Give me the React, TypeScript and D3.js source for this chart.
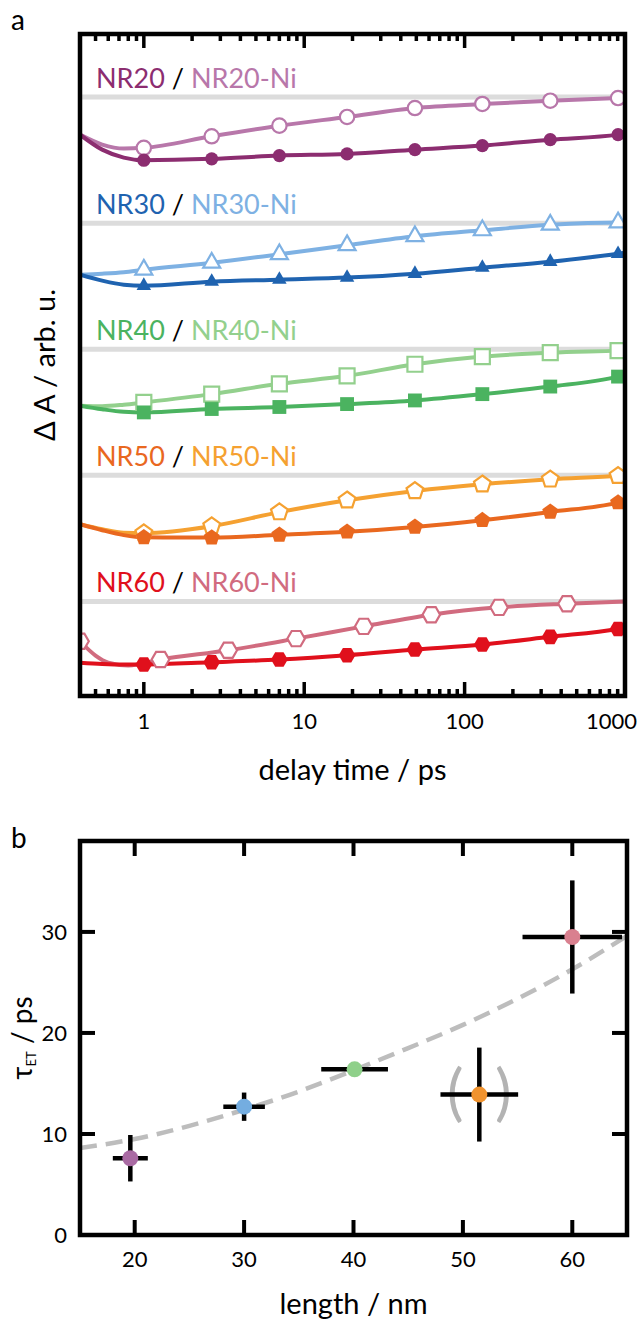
import React from "react";
import * as d3 from "d3";

// ---- panel a: transient absorption kinetics ----
const delayTimes = [0.4, 0.55, 0.75, 1, 2.65, 7, 18.5, 49, 129, 342, 905, 1000];
const markerTimes = [1, 2.65, 7, 18.5, 49, 129, 342, 905];
const ni60Times = [0.4, 0.5, 0.6, 0.8, 1.27, 3.36, 8.9, 23.5, 62, 164, 435, 1000];
const ni60MarkerTimes = [0.4, 1.27, 3.36, 8.9, 23.5, 62, 164, 435];

const nr20 = [-29.8, -41.7, -48, -50.1, -49, -46.4, -45.1, -41.7, -38.5, -33.8, -29.8, -29];
const nr20Ni = [-29.8, -37.7, -40.9, -40.3, -31.1, -22.7, -15.8, -8.7, -5.5, -2.9, -0.8, -0.6];
const nr30 = [-40.9, -45.6, -48.8, -49.6, -46.4, -44.8, -43.2, -40.1, -35.3, -30.6, -24.3, -23.5];
const nr30Ni = [-40.9, -40.1, -38.9, -36.9, -31.4, -24.7, -17.5, -10.4, -5.7, -1.3, 0.6, 0.6];
const nr40 = [-44.8, -47.6, -49.6, -50.1, -47.4, -45.8, -43.5, -40.6, -35.6, -29.6, -21.7, -20.3];
const nr40Ni = [-44.8, -45.2, -44.0, -42.2, -35.6, -27.4, -21.1, -11.9, -5.8, -2.7, -1.1, -0.9];
const nr50 = [-38.7, -43.5, -47.4, -49.2, -49.4, -47.2, -44.8, -40.9, -35.6, -29.0, -21.6, -20.2];
const nr50Ni = [-38.7, -42.7, -45.5, -45.8, -40.3, -29.2, -19.8, -12.4, -7.1, -3.2, -0.4, 0];
const nr60 = [-48.7, -49.6, -50.0, -50.0, -48.2, -46.1, -42.7, -38.2, -34.2, -28.1, -21.8, -20.8];
const nr60Ni = [-31.6, -42.9, -48.5, -50.8, -46.1, -38.7, -29.5, -19.8, -10.5, -4.7, -1.8, 0];

const sampleNames = ["NR20", "NR30", "NR40", "NR50", "NR60"];
const darkColors = ["#8c2d70", "#1f63b0", "#4bb360", "#e9681f", "#e0101c"];
const lightColors = ["#b877aa", "#7eb1e3", "#93d08d", "#f5a131", "#d16b7f"];
const markerShapes = ["circle", "triangle", "square", "pentagon", "hexagon"];
const timeTicks = [1, 10, 100, 1000];

// ---- panel b: electron transfer time vs rod length ----
const rodLengths = [19.6, 30.0, 40.1, 51.5, 60.0];
const lengthErr = [1.6, 1.9, 3.05, 3.55, 4.55];
const tauEt = [7.6, 12.7, 16.4, 13.9, 29.5];
const tauErr = [2.3, 1.4, 0.4, 4.65, 5.6];
const dotColors = ["#a96aa3", "#74ade0", "#8fd08a", "#f0932f", "#d9808f"];
const fitLengths = [15, 20, 25, 30, 35, 40, 45, 50, 55, 60, 65];
const fitTau = [8.6, 9.5, 10.8, 12.4, 14.2, 16.3, 18.5, 20.8, 23.4, 26.3, 29.6];
const lengthTicks = [20, 30, 40, 50, 60];
const tauTicks = [0, 10, 20, 30];

const W = 640;
const H = 1324;
const FONT = "Lato, 'Open Sans', sans-serif";

// polygon / circle marker path centred at 0,0
function markerPath(shape: string, r: number) {
  if (shape === "circle") return d3.symbol(d3.symbolCircle, Math.PI * r * r)();
  const n = { triangle: 3, square: 4, pentagon: 5, hexagon: 6 }[shape] as number;
  const start = { triangle: -Math.PI / 2, square: Math.PI / 4, pentagon: -Math.PI / 2, hexagon: 0 }[shape] as number;
  const pts = d3.range(n).map((i) => {
    const a = start + (i * 2 * Math.PI) / n;
    return [r * Math.cos(a), r * Math.sin(a)] as [number, number];
  });
  return d3.line().curve(d3.curveLinearClosed)(pts);
}
const openSize: any = { circle: 7.2, triangle: 9.8, square: 10.6, pentagon: 8.8, hexagon: 8.8 };
const fillSize: any = { circle: 6.6, triangle: 8.4, square: 9.8, pentagon: 8.4, hexagon: 8.4 };

function PanelA() {
  const left = 80, right = 625, top = 34, bottom = 696;
  const x = d3.scaleLog().domain([0.4, 1000]).range([left, right]);
  const y = d3.scaleLinear().domain([-475, 50]).range([bottom, top]);
  const spacing = 100; // vertical offset between samples

  const series = [
    { dark: nr20, light: nr20Ni },
    { dark: nr30, light: nr30Ni },
    { dark: nr40, light: nr40Ni },
    { dark: nr50, light: nr50Ni },
    { dark: nr60, light: nr60Ni },
  ];

  const line = (times: number[], vals: number[], off: number) =>
    d3.line<number>()
      .x((_, i) => x(times[i]))
      .y((v) => y(v - off))
      .curve(d3.curveMonotoneX)(vals);

  const valueAt = (times: number[], vals: number[], t: number) => vals[times.indexOf(t)];

  const minor: number[] = [];
  [0.1, 1, 10, 100].forEach((d) => d3.range(2, 10).forEach((k) => {
    const t = k * d;
    if (t >= 0.4 && t < 1000) minor.push(t);
  }));

  return (
    <g>
      <defs>
        <clipPath id="clipA">
          <rect x={left} y={top} width={right - left} height={bottom - top} />
        </clipPath>
      </defs>
      <text x={11} y={30} fontSize={28} fontFamily={FONT}>a</text>

      <g clipPath="url(#clipA)">
        {series.map((s, i) => (
          <line key={"b" + i} x1={left} x2={right} y1={y(-i * spacing)} y2={y(-i * spacing)}
            stroke="#dcdcdc" strokeWidth={5} />
        ))}
        {series.map((s, i) => {
          const off = i * spacing;
          const lt = i === 4 ? ni60Times : delayTimes;
          return (
            <g key={"l" + i} fill="none" strokeWidth={4} strokeLinejoin="round">
              <path d={line(lt, s.light, off) as string} stroke={lightColors[i]} />
              <path d={line(delayTimes, s.dark, off) as string} stroke={darkColors[i]} />
            </g>
          );
        })}
        {series.map((s, i) => {
          const off = i * spacing;
          const lt = i === 4 ? ni60Times : delayTimes;
          const lm = i === 4 ? ni60MarkerTimes : markerTimes;
          const shape = markerShapes[i];
          return (
            <g key={"m" + i}>
              {lm.map((t) => (
                <path key={"o" + t} d={markerPath(shape, openSize[shape]) as string}
                  transform={`translate(${x(t)},${y(valueAt(lt, s.light, t) - off)})`}
                  fill="#fff" stroke={lightColors[i]} strokeWidth={2.2} />
              ))}
              {markerTimes.map((t) => (
                <path key={"f" + t} d={markerPath(shape, fillSize[shape]) as string}
                  transform={`translate(${x(t)},${y(valueAt(delayTimes, s.dark, t) - off)})`}
                  fill={darkColors[i]} />
              ))}
            </g>
          );
        })}
      </g>

      {sampleNames.map((name, i) => (
        <text key={"t" + i} x={96} y={y(-i * spacing) - 9} fontSize={27} fontFamily={FONT}>
          <tspan fill={darkColors[i]}>{name}</tspan>
          <tspan fill="#000"> / </tspan>
          <tspan fill={lightColors[i]}>{name}-Ni</tspan>
        </text>
      ))}

      {/* ticks, top and bottom, pointing inwards */}
      <g stroke="#000" strokeWidth={3.5}>
        {timeTicks.map((t) => (
          <g key={"M" + t}>
            <line x1={x(t)} x2={x(t)} y1={top} y2={top + 14} />
            <line x1={x(t)} x2={x(t)} y1={bottom} y2={bottom - 14} />
          </g>
        ))}
        {minor.map((t) => (
          <g key={"m" + t}>
            <line x1={x(t)} x2={x(t)} y1={top} y2={top + 7} />
            <line x1={x(t)} x2={x(t)} y1={bottom} y2={bottom - 7} />
          </g>
        ))}
      </g>
      <rect x={left} y={top} width={right - left} height={bottom - top} fill="none"
        stroke="#000" strokeWidth={4.5} />

      {timeTicks.map((t) => (
        <text key={"L" + t} x={t === 1000 ? x(t) + 12 : x(t)} y={729}
          textAnchor={t === 1000 ? "end" : "middle"} fontSize={22} fontFamily={FONT}>
          {d3.format("d")(t)}
        </text>
      ))}
      <text x={(left + right) / 2} y={780} textAnchor="middle" fontSize={29} fontFamily={FONT}>
        delay time / ps
      </text>
      <text transform={`translate(55,${(top + bottom) / 2}) rotate(-90)`} textAnchor="middle"
        fontSize={29} fontFamily={FONT}>
        Δ A / arb. u.
      </text>
    </g>
  );
}

function PanelB() {
  const left = 80, right = 627, top = 841, bottom = 1235;
  const x = d3.scaleLinear().domain([15, 65]).range([left, right]);
  const y = d3.scaleLinear().domain([0, 39]).range([bottom, top]);
  const fit = d3.line<number>()
    .x((_, i) => x(fitLengths[i]))
    .y((v) => y(v))
    .curve(d3.curveNatural)(fitTau);

  return (
    <g>
      <defs>
        <clipPath id="clipB">
          <rect x={left} y={top} width={right - left} height={bottom - top} />
        </clipPath>
      </defs>
      <text x={11} y={848} fontSize={28} fontFamily={FONT}>b</text>

      <path d={fit as string} fill="none" stroke="#bdbdbd" strokeWidth={4.5}
        strokeDasharray="17 9" clipPath="url(#clipB)" />

      {/* excluded point marked with grey brackets */}
      <text x={x(rodLengths[3]) - 24} y={y(tauEt[3]) + 19} textAnchor="middle" fontSize={62}
        fontFamily={FONT} fill="#b3b3b3">(</text>
      <text x={x(rodLengths[3]) + 24} y={y(tauEt[3]) + 19} textAnchor="middle" fontSize={62}
        fontFamily={FONT} fill="#b3b3b3">)</text>

      <g stroke="#000" strokeWidth={4.5}>
        {rodLengths.map((l, i) => (
          <g key={"e" + i}>
            <line x1={x(l - lengthErr[i])} x2={x(l + lengthErr[i])} y1={y(tauEt[i])} y2={y(tauEt[i])} />
            <line x1={x(l)} x2={x(l)} y1={y(tauEt[i] - tauErr[i])} y2={y(tauEt[i] + tauErr[i])} />
          </g>
        ))}
      </g>
      {rodLengths.map((l, i) => (
        <circle key={"d" + i} cx={x(l)} cy={y(tauEt[i])} r={8} fill={dotColors[i]} />
      ))}

      <g stroke="#000" strokeWidth={4}>
        {lengthTicks.map((t) => (
          <g key={"x" + t}>
            <line x1={x(t)} x2={x(t)} y1={bottom} y2={bottom - 15} />
            <line x1={x(t)} x2={x(t)} y1={top} y2={top + 15} />
          </g>
        ))}
        {tauTicks.slice(1).map((t) => (
          <g key={"y" + t}>
            <line x1={left} x2={left + 15} y1={y(t)} y2={y(t)} />
            <line x1={right} x2={right - 15} y1={y(t)} y2={y(t)} />
          </g>
        ))}
      </g>
      <rect x={left} y={top} width={right - left} height={bottom - top} fill="none"
        stroke="#000" strokeWidth={4.5} />

      {lengthTicks.map((t) => (
        <text key={"xl" + t} x={x(t)} y={1267} textAnchor="middle" fontSize={22} fontFamily={FONT}>{t}</text>
      ))}
      {tauTicks.map((t) => (
        <text key={"yl" + t} x={67} y={y(t) + 8} textAnchor="end" fontSize={22} fontFamily={FONT}>{t}</text>
      ))}
      <text x={(left + right) / 2} y={1314} textAnchor="middle" fontSize={29} fontFamily={FONT}>
        length / nm
      </text>
      <text transform={`translate(32,${(top + bottom) / 2}) rotate(-90)`} textAnchor="middle"
        fontSize={28} fontFamily={FONT}>
        τ<tspan fontSize={13} dy={4}>ET</tspan><tspan dy={-4}> / ps</tspan>
      </text>
    </g>
  );
}

export default function App() {
  return (
    <svg width={W} height={H} style={{ position: "absolute", left: 0, top: 0, background: "#fff" }}>
      <PanelA />
      <PanelB />
    </svg>
  );
}
